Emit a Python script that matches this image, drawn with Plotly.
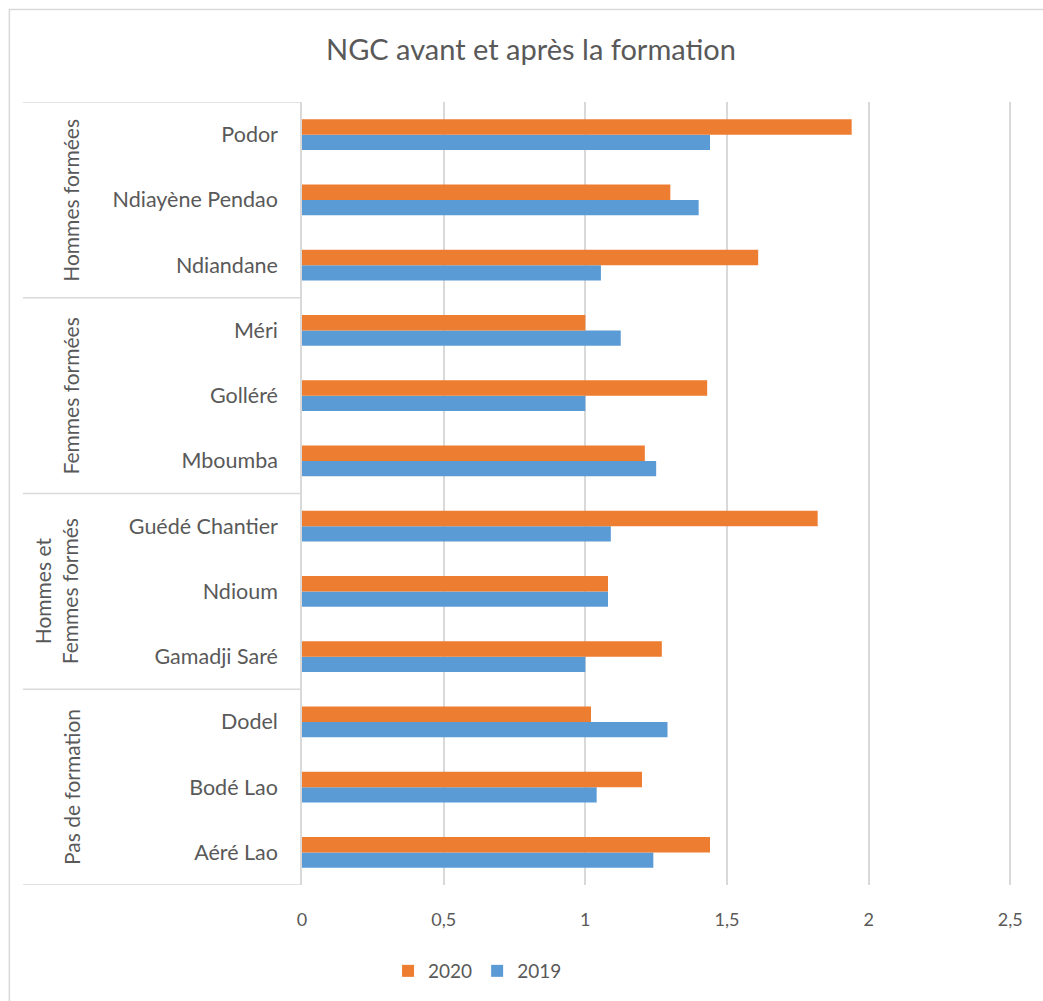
import plotly.graph_objects as go

# ---- data (top-to-bottom reading order) ----
villages = ["Podor", "Ndiayène Pendao", "Ndiandane",
            "Méri", "Golléré", "Mboumba",
            "Guédé Chantier", "Ndioum", "Gamadji Saré",
            "Dodel", "Bodé Lao", "Aéré Lao"]
v2020 = [1.94, 1.30, 1.61, 1.00, 1.43, 1.21, 1.82, 1.08, 1.27, 1.02, 1.20, 1.44]
v2019 = [1.44, 1.40, 1.055, 1.125, 1.00, 1.25, 1.09, 1.08, 1.00, 1.29, 1.04, 1.24]
groups = ["Hommes formées", "Femmes formées", "Hommes et<br>Femmes formés", "Pas de formation"]
group_sizes = [3, 3, 3, 3]
x_ticks = [0, 0.5, 1, 1.5, 2, 2.5]

ORANGE = "#ED7D31"
BLUE = "#5B9BD5"
TXT = "#595959"
LINE = "#D9D9D9"
FONT = "Lato"

fig = go.Figure()
fig.add_trace(go.Bar(y=villages, x=v2019, orientation="h", name="2019",
                     marker=dict(color=BLUE, line=dict(width=0))))
fig.add_trace(go.Bar(y=villages, x=v2020, orientation="h", name="2020",
                     marker=dict(color=ORANGE, line=dict(width=0))))

n = len(villages)
cat_order = villages[::-1]  # bottom-to-top

# pixel geometry (plot area 302..~1016 x so that 2.5 sits at 1010, 102..886 y)
XMAX = 2.52
L, T, B = 302, 102, 886
R = L + (1010 - L) * XMAX / 2.5
W, H = R - L, B - T
def px2paper_x(px):
    return (px - L) / W
def px2paper_y(py):
    return (B - py) / H

shapes = []
annotations = []
# separators of group axis
top_idx = n - 1 + 0.5
bounds = [top_idx]
cur = top_idx
for s in group_sizes:
    cur -= s
    bounds.append(cur)
for b in bounds:
    shapes.append(dict(type="line", xref="paper", yref="y",
                       x0=px2paper_x(23), x1=0, y0=b, y1=b,
                       line=dict(color=LINE, width=1.5)))
# group labels
label_px = [71, 71, 56, 71]
for i, g in enumerate(groups):
    center = (bounds[i] + bounds[i + 1]) / 2
    annotations.append(dict(text=g, xref="paper", yref="y",
                            x=px2paper_x(label_px[i]), y=center,
                            xanchor="center", yanchor="middle",
                            textangle=-90, showarrow=False,
                            font=dict(family=FONT, size=21, color=TXT)))
# chart border
shapes.append(dict(type="rect", xref="paper", yref="paper",
                   x0=px2paper_x(9.5), x1=px2paper_x(1060),
                   y0=px2paper_y(1020), y1=px2paper_y(9.5),
                   line=dict(color=LINE, width=1.5), fillcolor="rgba(0,0,0,0)"))

fig.update_layout(
    width=1043, height=1001,
    margin=dict(l=L, r=1043 - R, t=T, b=1001 - B),
    paper_bgcolor="white", plot_bgcolor="white",
    barmode="group", bargap=0.53, bargroupgap=0,
    separators=", ",
    title=dict(text="NGC avant et après la formation",
               x=531 / 1043, xref="container", xanchor="center",
               y=1 - 50 / 1001, yref="container", yanchor="middle",
               font=dict(family=FONT, size=29, color=TXT)),
    font=dict(family=FONT, color=TXT),
    legend=dict(orientation="h", traceorder="reversed",
                x=px2paper_x(388), xanchor="left",
                y=px2paper_y(971), yanchor="middle",
                font=dict(family=FONT, size=19, color=TXT),
                itemwidth=30),
    shapes=shapes, annotations=annotations,
)
fig.update_xaxes(range=[0, XMAX], tickvals=x_ticks, showgrid=True,
                 gridcolor=LINE, gridwidth=1.5, zeroline=False,
                 showline=False, ticks="", ticklabelstandoff=22,
                 tickfont=dict(family=FONT, size=18, color=TXT))
fig.update_yaxes(categoryorder="array", categoryarray=cat_order,
                 range=[-0.5, n - 0.5], showline=True, linecolor=LINE,
                 linewidth=1.5, ticks="", ticklabelstandoff=18,
                 showgrid=False,
                 tickfont=dict(family=FONT, size=21.5, color=TXT))

fig.write_html("out.html")
